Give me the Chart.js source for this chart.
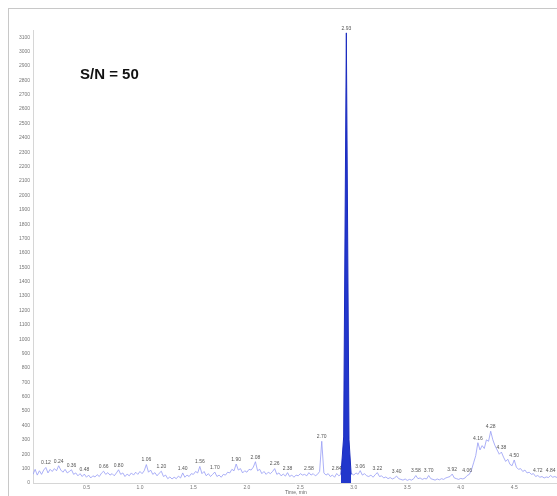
<!DOCTYPE html>
<html>
<head>
<meta charset="utf-8">
<script src="https://cdn.jsdelivr.net/npm/chart.js@4"></script>
<style>
  html, body { margin: 0; padding: 0; background: #fff; }
  canvas { display: block; }
</style>
</head>
<body>
<canvas id="xic" width="557" height="496"></canvas>
<script>
// Extracted ion chromatogram, sampled every 0.02 min from 0.00 to 4.90 min
const sampleStep = 0.02;
const intensity = [
  60, 95, 55, 85, 60, 90, 108, 70, 95, 80,      // 0.00 - 0.18
  100, 85, 120, 90, 75, 95, 70, 80, 92, 60,     // 0.20 - 0.38
  70, 50, 65, 45, 62, 40, 55, 35, 50, 42,       // 0.40 - 0.58
  58, 45, 68, 82, 60, 72, 55, 65, 50, 70,       // 0.60 - 0.78
  92, 60, 70, 45, 62, 50, 70, 55, 75, 60,       // 0.80 - 0.98
  80, 65, 85, 128, 75, 90, 60, 72, 50, 68,      // 1.00 - 1.18
  82, 45, 55, 30, 42, 28, 40, 30, 48, 35,       // 1.20 - 1.38
  70, 40, 55, 45, 65, 60, 80, 70, 115, 65,      // 1.40 - 1.58
  80, 50, 65, 45, 60, 76, 45, 55, 40, 60,       // 1.60 - 1.78
  55, 75, 70, 95, 85, 132, 90, 100, 70, 85,     // 1.80 - 1.98
  75, 95, 90, 110, 148, 85, 95, 65, 80, 60,     // 2.00 - 2.18
  75, 65, 80, 100, 60, 70, 50, 62, 48, 72,      // 2.20 - 2.38
  45, 55, 40, 55, 50, 65, 55, 60, 50, 72,       // 2.40 - 2.58
  55, 65, 50, 60, 80, 290, 70, 55, 65, 45,      // 2.60 - 2.78
  55, 40, 66, 50, 60, 60, 55, 60, 50, 65,       // 2.80 - 2.98
  55, 70, 60, 86, 55, 65, 50, 45, 55, 40,       // 3.00 - 3.18
  58, 72, 45, 50, 35, 42, 30, 38, 28, 35,       // 3.20 - 3.38
  48, 30, 25, 20, 28, 18, 25, 20, 30, 52,       // 3.40 - 3.58
  30, 35, 25, 32, 28, 52, 30, 25, 20, 28,       // 3.60 - 3.78
  22, 30, 25, 35, 40, 45, 62, 35, 30, 25,       // 3.80 - 3.98
  32, 28, 35, 52, 60, 90, 140, 190, 280, 230,   // 4.00 - 4.18
  260, 240, 300, 290, 360, 300, 260, 230, 200, 215, // 4.20 - 4.38
  180, 150, 165, 130, 120, 160, 110, 95, 100, 80,   // 4.40 - 4.58
  90, 70, 75, 60, 65, 45, 52, 40, 45, 35,       // 4.60 - 4.78
  42, 38, 52, 40, 45, 38                        // 4.80 - 4.90
];

// Dominant peak (drawn filled), retention time / intensity pairs
const mainPeakTimes = [2.88, 2.905, 2.93, 2.955, 2.975];
const mainPeakValues = [60, 320, 3130, 300, 60];

// Retention times annotated above peaks
const peakTimes = [
  0.12, 0.24, 0.36, 0.48, 0.66, 0.80, 1.06, 1.20, 1.40, 1.56, 1.70,
  1.90, 2.08, 2.26, 2.38, 2.58, 2.70, 2.84, 2.93, 3.06, 3.22, 3.40,
  3.58, 3.70, 3.92, 4.06, 4.16, 4.28, 4.38, 4.50, 4.72, 4.84
];

const xTickValues = [0.5, 1.0, 1.5, 2.0, 2.5, 3.0, 3.5, 4.0, 4.5];
const yTickStep = 100;
const yTickTop = 3100;

const trace = intensity.map((v, i) => ({ x: +(i * sampleStep).toFixed(2), y: v }));
const mainPeak = mainPeakTimes.map((t, i) => ({ x: t, y: mainPeakValues[i] }));

function valueAt(t) {
  const mi = mainPeakTimes.indexOf(t);
  if (mi >= 0) return mainPeakValues[mi];
  return intensity[Math.round(t / sampleStep)];
}

const decorations = {
  id: 'decorations',
  afterDraw(chart) {
    const { ctx, scales: { x, y } } = chart;
    ctx.save();
    // outer frame
    ctx.strokeStyle = '#c8c8c8';
    ctx.lineWidth = 1;
    ctx.strokeRect(8.5, 8.5, 600, 600);

    // peak retention-time labels
    ctx.fillStyle = '#555';
    ctx.font = '5px "Liberation Sans", Arial, sans-serif';
    ctx.textAlign = 'center';
    ctx.textBaseline = 'bottom';
    peakTimes.forEach(t => {
      const px = x.getPixelForValue(t);
      const py = y.getPixelForValue(valueAt(t));
      ctx.fillText(t.toFixed(2), px, py - 2);
    });

    // signal-to-noise annotation
    ctx.fillStyle = '#111';
    ctx.font = 'bold 15px "Liberation Sans", Arial, sans-serif';
    ctx.textAlign = 'left';
    ctx.textBaseline = 'middle';
    ctx.fillText('S/N = 50', 80, 75);

    // x axis title
    ctx.fillStyle = '#666';
    ctx.font = '5px "Liberation Sans", Arial, sans-serif';
    ctx.textAlign = 'center';
    ctx.textBaseline = 'middle';
    ctx.fillText('Time, min', 296, 493);
    ctx.restore();
  }
};

new Chart(document.getElementById('xic'), {
  type: 'line',
  data: {
    datasets: [
      {
        data: mainPeak,
        borderColor: '#1a2bbf',
        backgroundColor: '#2237cc',
        borderWidth: 1,
        fill: 'origin',
        pointRadius: 0,
        tension: 0
      },
      {
        data: trace,
        borderColor: 'rgba(150,156,245,0.8)',
        borderWidth: 1,
        fill: false,
        pointRadius: 0,
        tension: 0
      }
    ]
  },
  options: {
    responsive: false,
    animation: false,
    layout: { padding: { top: 30, left: 0, right: 0, bottom: 0 } },
    plugins: { legend: { display: false }, tooltip: { enabled: false } },
    scales: {
      x: {
        type: 'linear',
        min: 0,
        max: 4.9,
        grid: { display: false, drawTicks: false },
        border: { display: true, color: '#d6d6d6' },
        afterBuildTicks(scale) { scale.ticks = xTickValues.map(v => ({ value: v })); },
        afterFit(scale) { scale.height = 13; },
        ticks: {
          padding: 2,
          color: '#777',
          font: { size: 5, family: '"Liberation Sans", Arial, sans-serif' },
          callback: v => Number(v).toFixed(1)
        }
      },
      y: {
        min: 0,
        max: 3150,
        grid: { display: false, drawTicks: false },
        border: { display: true, color: '#d6d6d6' },
        afterBuildTicks(scale) {
          const t = [];
          for (let v = 0; v <= yTickTop; v += yTickStep) t.push({ value: v });
          scale.ticks = t;
        },
        afterFit(scale) { scale.width = 33; },
        ticks: {
          padding: 3,
          color: '#777',
          font: { size: 5, family: '"Liberation Sans", Arial, sans-serif' },
          callback: v => String(v)
        }
      }
    }
  },
  plugins: [decorations]
});
</script>
</body>
</html>
